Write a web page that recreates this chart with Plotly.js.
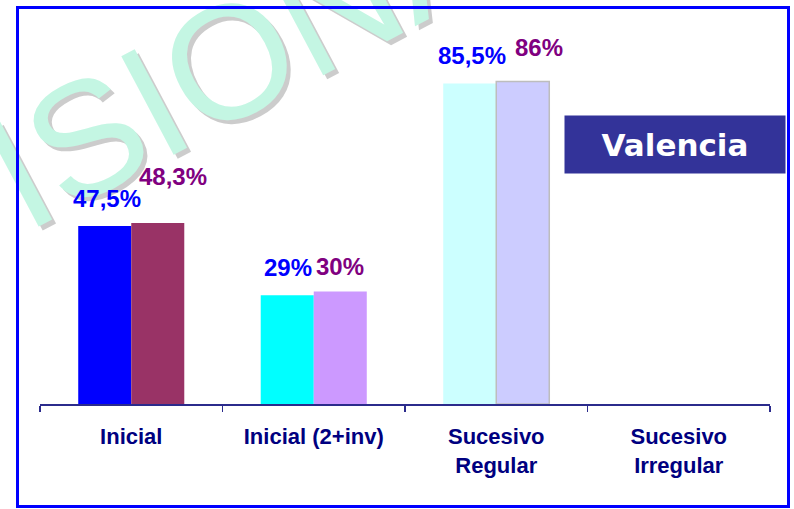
<!DOCTYPE html>
<html><head><meta charset="utf-8">
<script src="https://cdn.plot.ly/plotly-3.0.1.min.js"></script>
<style>html,body{margin:0;padding:0;background:#fff;} #chart{width:794px;height:509px;}</style>
</head><body><div id="chart"></div>
<script>
// ---- data ----
const categories = ['Inicial', 'Inicial (2+inv)', 'Sucesivo Regular', 'Sucesivo Irregular'];
const tickLabels = ['Inicial', 'Inicial (2+inv)', 'Sucesivo<br>Regular', 'Sucesivo<br>Irregular'];
const seriesA = [47.5, 29, 85.5, null];
const seriesB = [48.3, 30, 86, null];
const labelsA = ['47,5%', '29%', '85,5%', ''];
const labelsB = ['48,3%', '30%', '86%', ''];
const boxTitle = 'Valencia';
const watermark = 'PROVISIONAL';

// ---- styles ----
const colorsA = ['#0000FF', '#00FFFF', '#CCFFFF', '#CCFFFF'];
const colorsB = ['#993366', '#CC99FF', '#CCCCFF', '#CCCCFF'];
const lineColB = ['#993366', '#CC99FF', '#BDBDBD', '#BDBDBD'];
const lineWB = [0, 0, 1.5, 0];
const W = 794, H = 509;
const M = {l: 40, r: 24, t: 29, b: 105};
const PW = W - M.l - M.r, PH = H - M.t - M.b;
const px2x = p => (p - M.l) / PW;
const py2y = p => (H - M.b - p) / PH;
const barHalf = 26.5;
// label offsets (px): [dx from bar centre, baseline height above bar top]
const offA = [[2, 18], [1, 18], [2.5, 18]];
const offB = [[15.5, 37], [0, 16], [16.5, 25]];
const lblFont = 'Arial, "Liberation Sans", sans-serif';

const traces = [
  {type: 'bar', x: categories, y: seriesA, marker: {color: colorsA, line: {width: 0}}, hoverinfo: 'skip'},
  {type: 'bar', x: categories, y: seriesB, marker: {color: colorsB, line: {color: lineColB, width: lineWB}}, hoverinfo: 'skip'}
];

const ann = [];
// watermark shadow + watermark
const wmX = px2x(78), wmY = py2y(141);
ann.push({xref: 'paper', yref: 'paper', x: wmX, y: wmY, xshift: 4, yshift: -4, text: watermark, showarrow: false,
  textangle: -28, xanchor: 'center', yanchor: 'middle',
  font: {family: lblFont, size: 162, color: 'rgba(110,110,110,0.35)'}});
ann.push({xref: 'paper', yref: 'paper', x: wmX, y: wmY, text: watermark, showarrow: false,
  textangle: -28, xanchor: 'center', yanchor: 'middle',
  font: {family: lblFont, size: 162, color: '#C4F6E3'}});
// frame
ann.push({xref: 'paper', yref: 'paper', x: px2x(402.5), y: py2y(256.5), xanchor: 'center', yanchor: 'middle',
  text: ' ', showarrow: false, width: 768, height: 496, borderpad: 0, borderwidth: 3, bordercolor: '#0000FF'});
// value labels
categories.forEach((c, i) => {
  if (seriesA[i] != null && offA[i]) {
    ann.push({xref: 'x', yref: 'y', x: c, y: seriesA[i], text: labelsA[i], showarrow: false,
      xanchor: 'center', yanchor: 'bottom', xshift: -barHalf + offA[i][0], yshift: offA[i][1] - 6,
      font: {family: lblFont, size: 24, color: '#0000FF', weight: 'bold'}});
  }
  if (seriesB[i] != null && offB[i]) {
    ann.push({xref: 'x', yref: 'y', x: c, y: seriesB[i], text: labelsB[i], showarrow: false,
      xanchor: 'center', yanchor: 'bottom', xshift: barHalf + offB[i][0], yshift: offB[i][1] - 6,
      font: {family: lblFont, size: 24, color: '#800080', weight: 'bold'}});
  }
});
// Valencia box
ann.push({xref: 'paper', yref: 'paper', x: px2x(675), y: py2y(144.5), xanchor: 'center', yanchor: 'middle',
  text: boxTitle, showarrow: false, width: 220, height: 57, borderpad: 0, bgcolor: '#333399',
  font: {family: '"DejaVu Sans", Verdana, sans-serif', size: 31, color: '#FFFFFF', weight: 'bold'}});

const layout = {
  width: W, height: H, margin: M, paper_bgcolor: '#FFFFFF', plot_bgcolor: 'rgba(0,0,0,0)',
  showlegend: false, barmode: 'group', bargap: 0.419, bargroupgap: 0,
  xaxis: {type: 'category', tickvals: categories, ticktext: tickLabels, range: [-0.5, 3.5],
    showline: true, linecolor: '#2B2B8C', linewidth: 2, ticks: 'outside', tickson: 'boundaries',
    ticklen: 6, tickwidth: 1.5, tickcolor: '#2B2B8C', showgrid: false, zeroline: false,
    ticklabelstandoff: 12,
    tickfont: {family: lblFont, size: 22, color: '#000080', weight: 'bold'}},
  yaxis: {range: [0, 100], visible: false, showgrid: false, zeroline: false},
  annotations: ann
};
Plotly.newPlot('chart', traces, layout, {displayModeBar: false, staticPlot: true});
</script></body></html>
